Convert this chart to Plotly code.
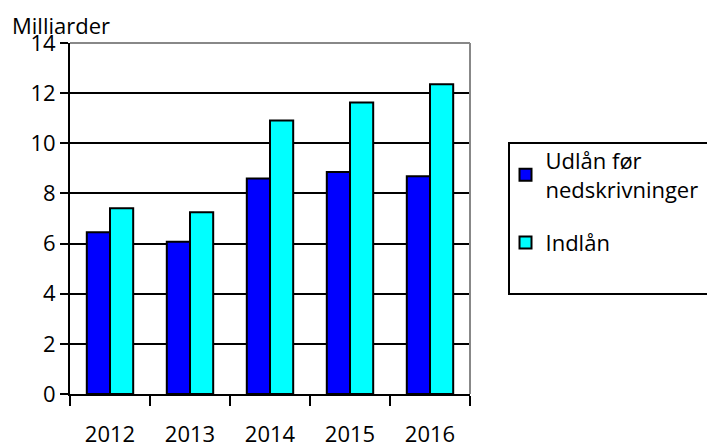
import plotly.graph_objects as go

years = ["2012", "2013", "2014", "2015", "2016"]
udlaan = [6.45, 6.07, 8.6, 8.85, 8.69]
indlaan = [7.41, 7.25, 10.91, 11.63, 12.35]
series_names = ["Udlån før<br>nedskrivninger", "Indlån"]
y_ticks = [0, 2, 4, 6, 8, 10, 12, 14]

FONT = "Open Sans"
FS = 22

fig = go.Figure()
fig.add_trace(go.Bar(x=years, y=udlaan, name=series_names[0], legendgroup="a",
                     marker=dict(color="#0000FF", line=dict(color="black", width=2))))
fig.add_trace(go.Bar(x=years, y=indlaan, name=series_names[1], legendgroup="b",
                     marker=dict(color="#00FFFF", line=dict(color="black", width=2))))

fig.update_layout(
    width=707, height=443,
    margin=dict(l=70, r=237, t=43, b=49, autoexpand=False),
    paper_bgcolor="white", plot_bgcolor="white",
    font=dict(family=FONT, size=FS, color="black"),
    barmode="group", bargap=0.42, bargroupgap=0.0,
    showlegend=True,
    legend=dict(xref="container", yref="container", x=0.715, y=0.685,
                xanchor="left", yanchor="top",
                font=dict(family=FONT, size=FS), tracegroupgap=22,
                itemwidth=30,
                bgcolor="rgba(0,0,0,0)", borderwidth=0),
    xaxis=dict(type="category", tickson="boundaries", ticks="outside", ticklen=10,
               tickwidth=2, tickcolor="black", showline=True, linecolor="black",
               linewidth=2, showgrid=False, ticklabelstandoff=20, automargin=False,
               tickfont=dict(size=FS)),
    yaxis=dict(range=[0, 14], tickvals=y_ticks, ticks="outside", ticklen=8,
               tickwidth=2, tickcolor="black", showline=True, linecolor="black",
               linewidth=2, showgrid=True, gridcolor="black", gridwidth=2,
               zeroline=False, automargin=False, tickfont=dict(size=FS)),
    annotations=[dict(text="Milliarder", xref="paper", yref="paper", x=-0.15, y=1.0,
                      xanchor="left", yanchor="bottom", showarrow=False, yshift=1,
                      font=dict(family=FONT, size=FS))],
    shapes=[
        dict(type="line", xref="paper", yref="paper", x0=0, x1=1, y0=1, y1=1,
             line=dict(color="#888888", width=2), layer="above"),
        dict(type="line", xref="paper", yref="paper", x0=1, x1=1, y0=0, y1=1,
             line=dict(color="#888888", width=2), layer="above"),
        dict(type="rect", xref="paper", yref="paper", x0=1.0975, x1=1.62, y0=0.285, y1=0.715,
             line=dict(color="black", width=2)),
    ],
)

fig.write_html("out.html")
